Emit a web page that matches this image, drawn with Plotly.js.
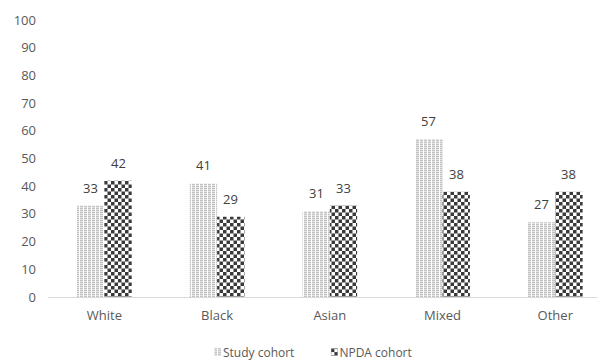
<!DOCTYPE html>
<html>
<head>
<meta charset="utf-8">
<script src="https://cdn.plot.ly/plotly-3.0.1.min.js"></script>
<style>
  html, body { margin: 0; padding: 0; background: #fff; overflow: hidden; }
  #chart { width: 597px; height: 360px; }
</style>
</head>
<body>
<!-- Fill textures for the two cohorts -->
<svg width="0" height="0" style="position:absolute">
  <defs>
    <pattern id="fillStudy" width="4" height="2" patternUnits="userSpaceOnUse">
      <rect x="0" y="0" width="4" height="2" fill="#ffffff"/>
      <rect x="0" y="0" width="3" height="1" fill="#c2c2c2"/>
      <rect x="0" y="1" width="3" height="1" fill="#e4e4e4"/>
    </pattern>
    <pattern id="fillNpda" width="7" height="7" patternUnits="userSpaceOnUse">
      <rect x="0" y="0" width="7" height="7" fill="#ffffff"/>
      <rect x="0" y="0" width="3.5" height="3.5" fill="#3a3a3a"/>
      <rect x="3.5" y="3.5" width="3.5" height="3.5" fill="#3a3a3a"/>
    </pattern>
  </defs>
</svg>
<div id="chart"></div>
<script>
// Ethnic group categories and percentage of each cohort
const categories = ['White', 'Black', 'Asian', 'Mixed', 'Other'];
const studyCohort = [33, 41, 31, 57, 27];
const npdaCohort = [42, 29, 33, 38, 38];
const seriesNames = ['Study cohort', 'NPDA cohort'];
const yTickValues = [0, 10, 20, 30, 40, 50, 60, 70, 80, 90, 100];

const seriesValues = [studyCohort, npdaCohort];
const textureIds = ['fillStudy', 'fillNpda'];
const fallbackColors = ['#d0d0d0', '#3a3a3a'];

const FONT = '"Open Sans", "Noto Sans", sans-serif';
const BAR_SHIFT = 13.7; // half a bar, in px, to centre value labels on each bar

const traces = seriesValues.map((vals, k) => ({
  type: 'bar',
  name: seriesNames[k],
  x: categories,
  y: vals,
  marker: { color: fallbackColors[k], line: { width: 0 } },
  hoverinfo: 'x+y+name'
}));

// Value labels above each bar, taken from the same arrays as the bars
const annotations = [];
seriesValues.forEach((vals, k) => {
  vals.forEach((v, i) => {
    annotations.push({
      x: categories[i], y: v, xref: 'x', yref: 'y',
      text: String(v), showarrow: false,
      xanchor: 'center', yanchor: 'bottom',
      xshift: k === 0 ? -BAR_SHIFT : BAR_SHIFT, yshift: 7,
      font: { family: FONT, size: 13, color: '#404040' }
    });
  });
});

const layout = {
  width: 597, height: 360,
  margin: { l: 48, r: 0, t: 20, b: 63 },
  paper_bgcolor: '#ffffff', plot_bgcolor: '#ffffff',
  barmode: 'group', bargap: 0.515, bargroupgap: 0,
  font: { family: FONT, size: 13, color: '#595959' },
  xaxis: {
    type: 'category',
    range: [-0.5, 4.37],
    showgrid: false, zeroline: false,
    showline: true, linecolor: '#d9d9d9', linewidth: 1,
    ticks: '', ticklabelstandoff: 6,
    tickfont: { family: FONT, size: 13, color: '#595959' },
    fixedrange: true
  },
  yaxis: {
    range: [0, 100],
    tickvals: yTickValues,
    showgrid: false, zeroline: false, showline: false,
    ticks: '', ticklabelstandoff: 11,
    tickfont: { family: FONT, size: 13, color: '#595959' },
    fixedrange: true
  },
  showlegend: true,
  legend: {
    orientation: 'h',
    xref: 'container', yref: 'container',
    x: 0.3065, xanchor: 'left',
    y: 0.022, yanchor: 'middle',
    font: { family: FONT, size: 12, color: '#595959' },
    itemwidth: 30, tracegroupgap: 0,
    bgcolor: 'rgba(0,0,0,0)'
  },
  annotations: annotations
};

// Apply the textured fills to bars and legend swatches
function applyTextures(gd) {
  const barTraces = gd.querySelectorAll('.barlayer .trace');
  barTraces.forEach((tr, k) => {
    tr.querySelectorAll('.point path').forEach(p => {
      p.style.fill = 'url(#' + textureIds[k] + ')';
    });
  });
  const legendItems = gd.querySelectorAll('.legend .traces');
  legendItems.forEach((item, k) => {
    item.querySelectorAll('.legendpoints path').forEach(p => {
      p.setAttribute('d', 'M3.5,4H-3.5V-4H3.5Z');
      p.setAttribute('transform', 'translate(35,0)');
      p.style.fill = 'url(#' + textureIds[k] + ')';
      p.style.stroke = 'none';
    });
  });
}

const gd = document.getElementById('chart');
Plotly.newPlot(gd, traces, layout, { displayModeBar: false }).then(() => {
  applyTextures(gd);
  gd.on('plotly_afterplot', () => applyTextures(gd));
});
</script>
</body>
</html>
